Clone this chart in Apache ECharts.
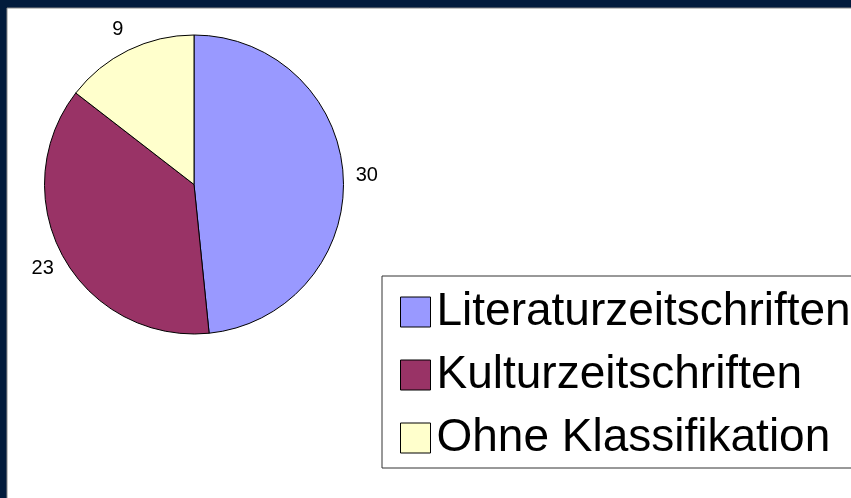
<!DOCTYPE html>
<html>
<head>
<meta charset="utf-8">
<script src="https://cdn.jsdelivr.net/npm/echarts@6/dist/echarts.min.js"></script>
<style>
  html, body { margin: 0; padding: 0; background: #021b3c; }
  #chart { width: 851px; height: 498px; }
</style>
</head>
<body>
<div id="chart"></div>
<script>
const categories = ["Literaturzeitschriften", "Kulturzeitschriften", "Ohne Klassifikation"];
const values = [30, 23, 9];
const colors = ["#9999ff", "#993366", "#ffffcc"];

const chart = echarts.init(document.getElementById("chart"));

const font = "Liberation Sans, Arial, sans-serif";

chart.setOption({
  backgroundColor: "#021b3c",
  animation: false,
  graphic: [{
    type: "rect",
    shape: { x: 7, y: 8, width: 850, height: 500 },
    style: { fill: "#ffffff", stroke: "#8a8a8a", lineWidth: 1 },
    z: -10
  }],
  legend: {
    orient: "vertical",
    left: 382,
    top: 276,
    data: categories,
    icon: "rect",
    itemWidth: 30,
    itemHeight: 30,
    itemGap: 11,
    padding: [10, 30, 4, 18],
    borderColor: "#333",
    borderWidth: 1,
    backgroundColor: "#fff",
    itemStyle: { borderColor: "#000", borderWidth: 1 },
    textStyle: {
      fontFamily: font,
      fontSize: 46,
      lineHeight: 52,
      color: "#000",
      padding: [0, 0, 0, 1]
    }
  },
  series: [{
    type: "pie",
    center: [194, 184.5],
    radius: 149.5,
    startAngle: 90,
    clockwise: true,
    data: categories.map((name, i) => ({
      name,
      value: values[i],
      itemStyle: { color: colors[i] }
    })),
    itemStyle: { borderColor: "#000", borderWidth: 1 },
    label: { show: false },
    labelLine: { show: false },
    emphasis: { disabled: true }
  }, {
    // invisible ring used only to place the value labels around the pie
    type: "pie",
    center: [194, 184.5],
    radius: [0, 340],
    startAngle: 90,
    clockwise: true,
    silent: true,
    z: 5,
    data: categories.map((name, i) => ({
      name: "label-" + i,
      value: values[i]
    })),
    itemStyle: { color: "rgba(0,0,0,0)", borderWidth: 0 },
    label: {
      show: true,
      position: "inside",
      formatter: "{c}",
      fontFamily: font,
      fontSize: 20,
      color: "#000"
    },
    labelLine: { show: false },
    emphasis: { disabled: true }
  }]
});
</script>
</body>
</html>
